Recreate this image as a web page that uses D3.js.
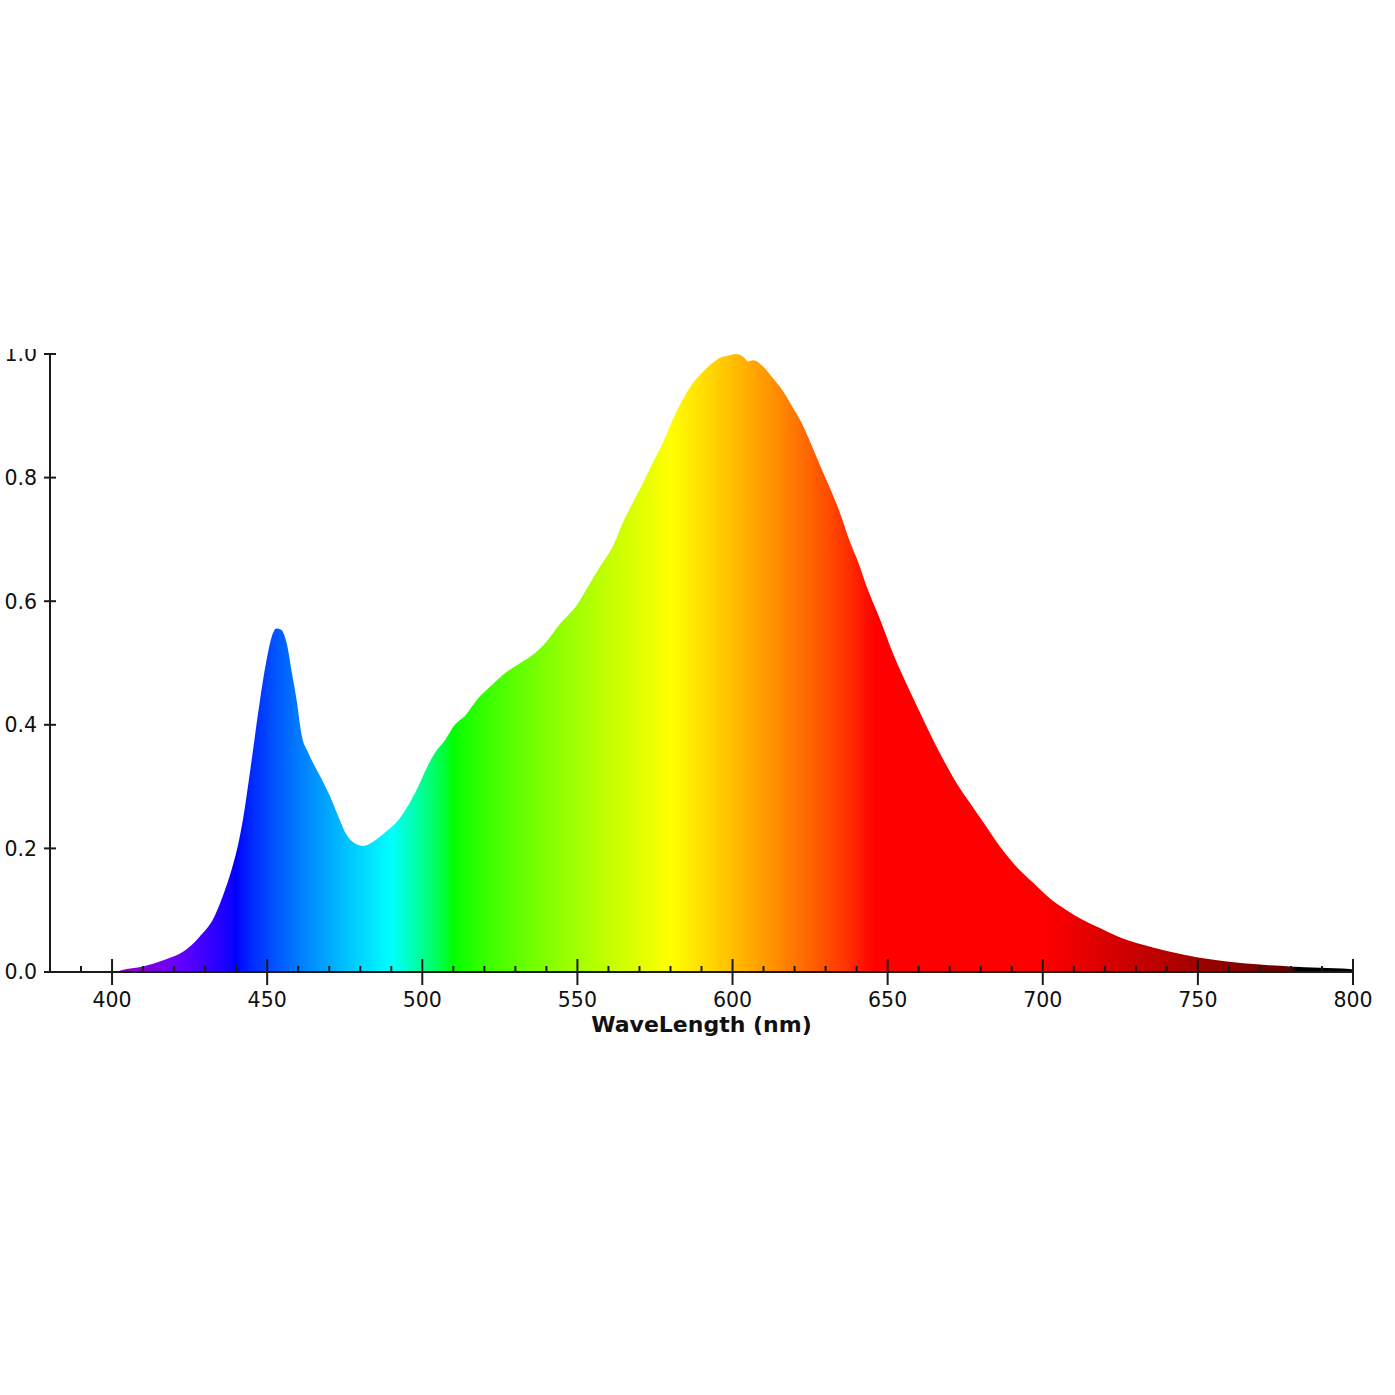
<!DOCTYPE html>
<html>
<head>
<meta charset="utf-8">
<script src="https://cdn.jsdelivr.net/npm/d3@7"></script>
<style>
  body { margin: 0; background: #fff; }
  svg text { font-family: "DejaVu Sans", sans-serif; fill: #111; }
</style>
</head>
<body>
<svg id="spectrum" width="1395" height="1395"></svg>
<script>
// wavelength (nm) and normalised intensity
const wavelengths = [401, 403, 410, 417, 423, 428, 433, 436, 438.5, 440.5, 442.3, 444.5, 447.7, 450, 451.5, 453, 454.5,
  456.3, 458, 459.5, 461, 463.3, 466, 468, 470.3, 473, 475.6, 478.3, 481, 484.5, 489, 492.3, 495.5, 498.7,
  501.4, 504, 507.3, 510, 514, 518, 522.4, 526, 531, 535.3, 539.6, 544, 550, 553.5, 557.3, 561.6, 564.8,
  568, 571.3, 574.5, 577.7, 580.4, 583.6, 586.8, 589.5, 592.7, 596, 598.5, 601, 603.5, 605, 606.7, 610,
  613, 616.4, 619, 622, 625, 628.2, 631.5, 634.7, 638, 640.6, 643.3, 647.6, 652, 656.2, 660.5, 664.7,
  668, 672.3, 676.6, 681, 686.2, 691.6, 697, 702.3, 707.7, 713, 718.4, 724, 732.3, 740, 749.6, 759.3,
  770, 779.7, 789.3, 799, 800];
const intensity = [0, 0.003, 0.009, 0.020, 0.033, 0.056, 0.090, 0.127, 0.165, 0.203, 0.250, 0.325, 0.44, 0.51, 0.543, 0.556, 0.554,
  0.532, 0.483, 0.44, 0.386, 0.354, 0.327, 0.308, 0.284, 0.251, 0.222, 0.208, 0.204, 0.212, 0.23, 0.246, 0.27, 0.30,
  0.33, 0.354, 0.375, 0.397, 0.416, 0.443, 0.464, 0.481, 0.498, 0.512, 0.532, 0.561, 0.595, 0.624, 0.656, 0.691, 0.729,
  0.761, 0.793, 0.826, 0.858, 0.89, 0.923, 0.95, 0.966, 0.982, 0.994, 0.997, 1.0, 0.995, 0.988, 0.99, 0.979,
  0.961, 0.939, 0.917, 0.891, 0.858, 0.82, 0.782, 0.742, 0.694, 0.662, 0.623, 0.57, 0.512, 0.465, 0.419, 0.375,
  0.343, 0.305, 0.273, 0.241, 0.203, 0.17, 0.144, 0.119, 0.1, 0.084, 0.071, 0.058, 0.044, 0.034, 0.024, 0.017,
  0.012, 0.009, 0.007, 0.005, 0.004];

const xTicks = [400, 450, 500, 550, 600, 650, 700, 750, 800];
const yTicks = [0.0, 0.2, 0.4, 0.6, 0.8, 1.0];
const xLabel = "WaveLength (nm)";

// classic wavelength -> rgb (Bruton), gamma 0.8
function waveColor(w) {
    let r = 0, g = 0, b = 0;
    if (w < 440) { r = (440 - w) / 60; b = 1; }
    else if (w < 490) { g = (w - 440) / 50; b = 1; }
    else if (w < 510) { g = 1; b = (510 - w) / 20; }
    else if (w < 580) { r = (w - 510) / 70; g = 1; }
    else if (w < 645) { r = 1; g = (645 - w) / 65; }
    else if (w <= 780) { r = 1; }
    let f = 0;
    if (w < 380) f = 0;
    else if (w < 420) f = 0.3 + 0.7 * (w - 380) / 40;
    else if (w < 700) f = 1;
    else if (w <= 780) f = 0.3 + 0.7 * (780 - w) / 80;
    const c = v => v === 0 ? 0 : Math.round(255 * Math.pow(v * f, 0.8));
    return d3.rgb(c(r), c(g), c(b)).formatHex();
}

function Draw_spectrum() {
    const left = 50, right = 1353, top = 354, bottom = 972;

    const svg = d3.select("#spectrum");
    const defs = svg.append("defs");

    defs.append("clipPath").attr("id", "frame")
        .append("rect")
        .attr("x", 0).attr("y", 349)
        .attr("width", 1395).attr("height", 1046);

    const x = d3.scaleLinear().domain([380, 800]).range([left, right]);
    const y = d3.scaleLinear().domain([0, 1]).range([bottom, top]);

    // spectrum gradient along x
    const grad = defs.append("linearGradient")
        .attr("id", "rainbow")
        .attr("gradientUnits", "userSpaceOnUse")
        .attr("x1", x(380)).attr("x2", x(800))
        .attr("y1", 0).attr("y2", 0);
    grad.selectAll("stop")
        .data(d3.range(380, 801, 2))
        .enter().append("stop")
        .attr("offset", d => (d - 380) / 420)
        .attr("stop-color", d => waveColor(d));

    const g = svg.append("g").attr("clip-path", "url(#frame)");

    const data = wavelengths.map((w, i) => ({ w: w, v: intensity[i] }));

    const area = d3.area()
        .x(d => x(d.w))
        .y0(y(0))
        .y1(d => y(d.v))
        .curve(d3.curveMonotoneX);

    g.append("path")
        .datum(data)
        .attr("d", area)
        .attr("fill", "url(#rainbow)");

    // x axis: major ticks both sides, minor ticks inward
    const xAxis = g.append("g").attr("class", "x-axis");
    xAxis.append("line")
        .attr("x1", 44).attr("x2", right)
        .attr("y1", bottom).attr("y2", bottom)
        .attr("stroke", "#1a1a1a").attr("stroke-width", 2);
    xAxis.selectAll(".minor")
        .data(d3.range(380, 801, 10).filter(d => d % 50 !== 0))
        .enter().append("line")
        .attr("class", "minor")
        .attr("x1", d => x(d)).attr("x2", d => x(d))
        .attr("y1", bottom - 6).attr("y2", bottom)
        .attr("stroke", "#1a1a1a").attr("stroke-width", 2);
    xAxis.selectAll(".major")
        .data(xTicks)
        .enter().append("line")
        .attr("class", "major")
        .attr("x1", d => x(d)).attr("x2", d => x(d))
        .attr("y1", bottom - 13).attr("y2", bottom + 13)
        .attr("stroke", "#1a1a1a").attr("stroke-width", 2);
    xAxis.selectAll("text")
        .data(xTicks)
        .enter().append("text")
        .attr("x", d => x(d))
        .attr("y", 1007)
        .attr("text-anchor", "middle")
        .attr("font-size", 20.5)
        .text(d => d);

    // y axis
    const yAxis = g.append("g").attr("class", "y-axis");
    yAxis.append("line")
        .attr("x1", left).attr("x2", left)
        .attr("y1", top).attr("y2", bottom)
        .attr("stroke", "#1a1a1a").attr("stroke-width", 2);
    yAxis.selectAll(".major")
        .data(yTicks)
        .enter().append("line")
        .attr("class", "major")
        .attr("x1", left - 6).attr("x2", left + 6)
        .attr("y1", d => y(d)).attr("y2", d => y(d))
        .attr("stroke", "#1a1a1a").attr("stroke-width", 2);
    yAxis.selectAll("text")
        .data(yTicks)
        .enter().append("text")
        .attr("x", 37)
        .attr("y", d => y(d))
        .attr("dy", "0.36em")
        .attr("text-anchor", "end")
        .attr("font-size", 20.5)
        .text(d => d.toFixed(1));

    // axis label
    g.append("text")
        .attr("x", (left + right) / 2)
        .attr("y", 1032)
        .attr("text-anchor", "middle")
        .attr("font-size", 22)
        .attr("font-weight", "bold")
        .text(xLabel);
}

Draw_spectrum();
</script>
</body>
</html>
